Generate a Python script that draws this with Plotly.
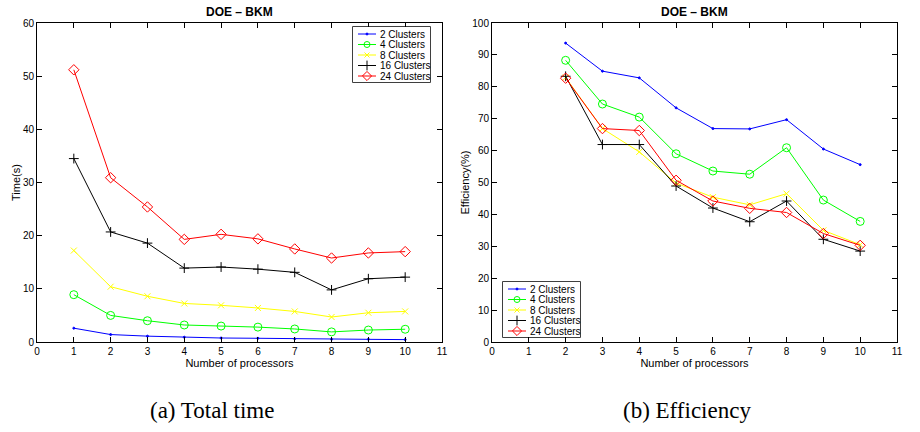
import plotly.graph_objects as go

procs_time = [1, 2, 3, 4, 5, 6, 7, 8, 9, 10]
procs_eff = [2, 3, 4, 5, 6, 7, 8, 9, 10]
series_names = ["2 Clusters", "4 Clusters", "8 Clusters", "16 Clusters", "24 Clusters"]

time_2 = [2.6, 1.4, 1.1, 0.9, 0.75, 0.7, 0.6, 0.5, 0.5, 0.45]
time_4 = [8.9, 5.0, 4.0, 3.2, 3.0, 2.8, 2.45, 1.9, 2.25, 2.4]
time_8 = [17.2, 10.4, 8.6, 7.25, 6.9, 6.4, 5.75, 4.7, 5.5, 5.75]
time_16 = [34.5, 20.7, 18.6, 13.9, 14.1, 13.7, 13.1, 9.8, 11.9, 12.2]
time_24 = [51.2, 30.9, 25.4, 19.3, 20.25, 19.4, 17.5, 15.8, 16.75, 17.0]

eff_2 = [93.7, 84.9, 82.8, 73.4, 66.9, 66.8, 69.7, 60.5, 55.6]
eff_4 = [88.3, 74.6, 70.5, 59.0, 53.6, 52.6, 60.9, 44.5, 37.8]
eff_8 = [82.9, 66.9, 59.6, 49.8, 45.4, 43.0, 46.5, 35.0, 30.5]
eff_16 = [83.3, 61.9, 61.9, 48.9, 42.0, 37.7, 44.2, 32.2, 28.5]
eff_24 = [82.7, 66.9, 66.3, 50.7, 44.2, 41.9, 40.6, 34.0, 30.3]

x_ticks = list(range(0, 12))
time_ticks = list(range(0, 61, 10))
eff_ticks = list(range(0, 101, 10))

colors = ["#0000ff", "#00ff00", "#ffff00", "#000000", "#ff0000"]
symbols = ["circle", "circle-open", "x-thin-open", "cross-thin-open", "diamond-open"]
sizes = [2, 8, 6, 7, 8]
leg_sizes = [2, 6, 5, 7, 7]

W, H = 920, 432
SANS = "Liberation Sans, Arial, sans-serif"

fig = go.Figure()

time_series = [time_2, time_4, time_8, time_16, time_24]
eff_series = [eff_2, eff_4, eff_8, eff_16, eff_24]

for i, (name, ys) in enumerate(zip(series_names, time_series)):
    fig.add_trace(go.Scatter(
        x=procs_time, y=ys, name=name, mode="lines+markers", showlegend=False,
        line=dict(color=colors[i], width=1),
        marker=dict(symbol=symbols[i], size=sizes[i], color=colors[i],
                    line=dict(color=colors[i], width=1)),
        xaxis="x", yaxis="y",
    ))

for i, (name, ys) in enumerate(zip(series_names, eff_series)):
    fig.add_trace(go.Scatter(
        x=procs_eff, y=ys, name=name, mode="lines+markers", showlegend=False,
        line=dict(color=colors[i], width=1),
        marker=dict(symbol=symbols[i], size=sizes[i], color=colors[i],
                    line=dict(color=colors[i], width=1)),
        xaxis="x2", yaxis="y2",
    ))

axis_common = dict(
    showline=True, linecolor="black", linewidth=1, mirror="ticks",
    ticks="inside", ticklen=5, tickcolor="black", showgrid=False, zeroline=False,
    automargin=False,
    tickfont=dict(family=SANS, size=10, color="black"),
)
title_font = dict(family=SANS, size=11, color="black")

annotations = []
shapes = []

# compact MATLAB-style legends drawn on hidden overlay axes
legend_boxes = [
    # (axis suffix, left px, top px, right px, bottom px)
    ("3", 353, 27, 430, 82),
    ("4", 503, 282, 580, 337),
]
row_top, row_step = 7.0, 10.5
layout_extra = {}
for suffix, x0, y0, x1, y1 in legend_boxes:
    bw, bh = x1 - x0, y1 - y0
    layout_extra["xaxis" + suffix] = dict(domain=[x0 / W, x1 / W], range=[0, bw],
                                          visible=False, anchor="y" + suffix, fixedrange=True)
    layout_extra["yaxis" + suffix] = dict(domain=[1 - y1 / H, 1 - y0 / H], range=[bh, 0],
                                          visible=False, anchor="x" + suffix, fixedrange=True)
    shapes.append(dict(type="rect", xref="paper", yref="paper",
                       x0=x0 / W, x1=x1 / W, y0=1 - y1 / H, y1=1 - y0 / H,
                       line=dict(color="black", width=1.5), fillcolor="white", layer="below"))
    for i, name in enumerate(series_names):
        ry = row_top + row_step * i
        fig.add_trace(go.Scatter(
            x=[5, 23], y=[ry, ry], mode="lines", showlegend=False, hoverinfo="skip",
            line=dict(color=colors[i], width=1), xaxis="x" + suffix, yaxis="y" + suffix,
        ))
        fig.add_trace(go.Scatter(
            x=[14], y=[ry], mode="markers", showlegend=False, hoverinfo="skip",
            marker=dict(symbol=symbols[i], size=leg_sizes[i], color=colors[i],
                        line=dict(color=colors[i], width=1)),
            xaxis="x" + suffix, yaxis="y" + suffix,
        ))
        annotations.append(dict(text=name, x=25, y=ry, xref="x" + suffix, yref="y" + suffix,
                                xanchor="left", yanchor="middle", showarrow=False,
                                font=dict(family=SANS, size=10, color="black")))

annotations += [
    dict(text="<b>DOE – BKM</b>", x=0.2603, y=1 - 12 / H, xref="paper", yref="paper",
         xanchor="center", yanchor="middle",
         showarrow=False, font=dict(family=SANS, size=12, color="black")),
    dict(text="<b>DOE – BKM</b>", x=0.7549, y=1 - 12 / H, xref="paper", yref="paper",
         xanchor="center", yanchor="middle",
         showarrow=False, font=dict(family=SANS, size=12, color="black")),
    dict(text="(a) Total time", x=212 / W, y=1 - 410 / H, xref="paper", yref="paper",
         xanchor="center", yanchor="middle",
         showarrow=False, font=dict(family="Liberation Serif, DejaVu Serif, serif", size=23, color="black")),
    dict(text="(b) Efficiency", x=687 / W, y=1 - 410 / H, xref="paper", yref="paper",
         xanchor="center", yanchor="middle",
         showarrow=False, font=dict(family="Liberation Serif, DejaVu Serif, serif", size=23, color="black")),
]

fig.update_layout(
    width=W, height=H,
    margin=dict(l=0, r=0, t=0, b=0, autoexpand=False),
    paper_bgcolor="white", plot_bgcolor="white",
    showlegend=False,
    xaxis=dict(domain=[37 / W, 442 / W], range=[0, 11], tickvals=x_ticks,
               title=dict(text="Number of processors", font=title_font, standoff=2),
               anchor="y", **axis_common),
    yaxis=dict(domain=[1 - 342 / H, 1 - 23 / H], range=[0, 60], tickvals=time_ticks,
               title=dict(text="Time(s)", font=title_font, standoff=0),
               anchor="x", **axis_common),
    xaxis2=dict(domain=[492 / W, 897 / W], range=[0, 11], tickvals=x_ticks,
                title=dict(text="Number of processors", font=title_font, standoff=2),
                anchor="y2", **axis_common),
    yaxis2=dict(domain=[1 - 342 / H, 1 - 23 / H], range=[0, 100], tickvals=eff_ticks,
                title=dict(text="Efficiency(%)", font=title_font, standoff=0),
                anchor="x2", **axis_common),
    annotations=annotations,
    shapes=shapes,
    **layout_extra,
)

fig.write_html("out.html", config={"displayModeBar": False},
               post_script="document.body.style.margin='0';document.body.style.overflow='hidden';")
